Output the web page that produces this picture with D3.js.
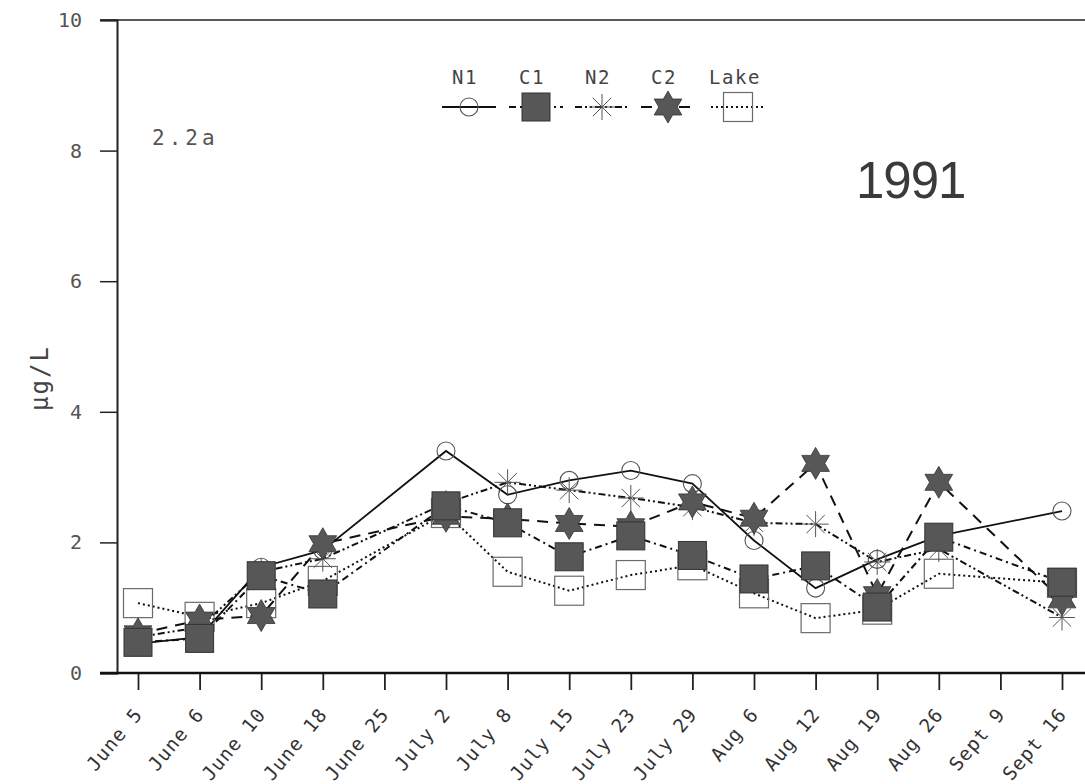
<!DOCTYPE html>
<html>
<head>
<meta charset="utf-8">
<script src="https://cdn.jsdelivr.net/npm/d3@7"></script>
<style>
  html, body { margin: 0; padding: 0; background: #fff; }
  svg { display: block; }
</style>
</head>
<body>
<svg id="chart" width="1085" height="784"></svg>
<script>
// Sampling dates (two dates without samples still get an axis slot)
const dates = ["June 5", "June 6", "June 10", "June 18", "June 25", "July 2", "July 8",
  "July 15", "July 23", "July 29", "Aug 6", "Aug 12", "Aug 19", "Aug 26", "Sept 9", "Sept 16"];

// Concentrations, µg/L (null = not sampled)
const n1   = [0.45, 0.55, 1.62, 1.88, null, 3.40, 2.73, 2.95, 3.10, 2.90, 2.03, 1.30, 1.74, 2.10, null, 2.48];
const c1   = [0.47, 0.53, 1.49, 1.21, null, 2.56, 2.30, 1.78, 2.10, 1.80, 1.44, 1.64, 1.01, 2.08, null, 1.39];
const n2   = [0.55, 0.70, 1.55, 1.75, null, 2.60, 2.92, 2.80, 2.68, 2.54, 2.30, 2.28, 1.70, 1.90, null, 0.85];
const c2   = [0.60, 0.81, 0.88, 1.98, null, 2.40, 2.36, 2.29, 2.24, 2.62, 2.37, 3.21, 1.20, 2.92, null, 1.12];
const lake = [1.07, 0.86, 1.07, 1.41, null, 2.45, 1.55, 1.26, 1.50, 1.65, 1.22, 0.84, 0.97, 1.52, null, 1.38];

const yTicks = [0, 2, 4, 6, 8, 10];
const seriesNames = ["N1", "C1", "N2", "C2", "Lake"];

const svg = d3.select("#chart");
const mono = "'DejaVu Sans Mono', monospace";

const x = d3.scalePoint().domain(dates).range([138, 1062]);
const y = d3.scaleLinear().domain([0, 10]).range([673, 20]);

// Per-series drawing style
const styles = {
  N1:   { values: n1,   dash: null,          marker: "circle" },
  C1:   { values: c1,   dash: "7,4,2,4",     marker: "fsquare" },
  N2:   { values: n2,   dash: "7,3,2,3,2,3", marker: "asterisk" },
  C2:   { values: c2,   dash: "11,8",        marker: "star" },
  Lake: { values: lake, dash: "2,3",         marker: "osquare" }
};

// ---- Axes ----
const axisG = svg.append("g");
// top frame line
axisG.append("line").attr("x1", 100).attr("x2", 1085).attr("y1", y(10)).attr("y2", y(10))
  .attr("stroke", "#222").attr("stroke-width", 1.5);

const yAxis = d3.axisLeft(y).tickValues(yTicks).tickSize(17).tickPadding(18)
  .tickFormat(d3.format("d"));
const gy = axisG.append("g").attr("transform", "translate(117,0)").call(yAxis);
gy.select(".domain").attr("stroke", "#222").attr("stroke-width", 2);
gy.selectAll(".tick line").attr("stroke", "#222").attr("stroke-width", 1.5);
gy.selectAll(".tick text").attr("font-family", mono).attr("font-size", 20).attr("fill", "#555");

const xAxis = d3.axisBottom(x).tickSize(17).tickSizeOuter(0);
const gx = axisG.append("g").attr("transform", `translate(0,${y(0)})`).call(xAxis);
gx.select(".domain").remove();
gx.append("line").attr("x1", 100).attr("x2", 1085).attr("y1", 0).attr("y2", 0)
  .attr("stroke", "#111").attr("stroke-width", 2.5);
gx.selectAll(".tick line").attr("stroke", "#222").attr("stroke-width", 1.8);
gx.selectAll(".tick text")
  .attr("font-family", mono).attr("font-size", 19).attr("fill", "#333")
  .attr("letter-spacing", 1)
  .attr("text-anchor", "end")
  .attr("dy", null).attr("y", null)
  .attr("transform", "translate(5,42) rotate(-50)");

// y-axis title
svg.append("text")
  .attr("transform", "translate(48,378) rotate(-90)")
  .attr("text-anchor", "middle")
  .attr("font-family", mono).attr("font-size", 24).attr("fill", "#444")
  .attr("letter-spacing", 2)
  .text("µg/L");

// panel tag and year
svg.append("text").attr("x", 152).attr("y", 145)
  .attr("font-family", mono).attr("font-size", 21).attr("fill", "#555")
  .attr("letter-spacing", 4).text("2.2a");
svg.append("text").attr("x", 856).attr("y", 198)
  .attr("font-family", "'Liberation Sans', Arial, sans-serif").attr("font-size", 51)
  .attr("fill", "#3a3a3a").attr("letter-spacing", -1).text("1991");

// ---- Marker shapes ----
const FILL = "#575757";
function hexagram(R) {
  const r = R / Math.sqrt(3);
  const pts = d3.range(12).map(i => {
    const a = -Math.PI / 2 + i * Math.PI / 6;
    const rad = i % 2 === 0 ? R : r;
    return [rad * Math.cos(a), rad * Math.sin(a)];
  });
  return "M" + pts.map(p => p.join(",")).join("L") + "Z";
}
function drawMarker(g, type) {
  if (type === "circle") {
    g.append("circle").attr("r", 9).attr("fill", "none").attr("stroke", "#555").attr("stroke-width", 1.1);
  } else if (type === "fsquare") {
    g.append("rect").attr("x", -14).attr("y", -14).attr("width", 28).attr("height", 28)
      .attr("fill", FILL).attr("stroke", "#333").attr("stroke-width", 1);
  } else if (type === "osquare") {
    g.append("rect").attr("x", -14.5).attr("y", -14.5).attr("width", 29).attr("height", 29)
      .attr("fill", "none").attr("stroke", "#6a6a6a").attr("stroke-width", 1.2);
  } else if (type === "asterisk") {
    [0, 45, 90, 135].forEach(a => {
      const rad = a * Math.PI / 180, R = 13;
      g.append("line")
        .attr("x1", -R * Math.cos(rad)).attr("y1", -R * Math.sin(rad))
        .attr("x2", R * Math.cos(rad)).attr("y2", R * Math.sin(rad))
        .attr("stroke", "#555").attr("stroke-width", 1);
    });
  } else if (type === "star") {
    g.append("path").attr("d", hexagram(16)).attr("fill", FILL).attr("stroke", "#333").attr("stroke-width", 0.8);
  }
}

// ---- Lines ----
const line = d3.line().x(d => x(d.date)).y(d => y(d.v));
const drawOrder = ["Lake", "N1", "N2", "C2", "C1"];
const plotG = svg.append("g");
drawOrder.forEach(name => {
  const s = styles[name];
  const pts = dates.map((d, i) => ({ date: d, v: s.values[i] })).filter(p => p.v !== null);
  plotG.append("path").datum(pts).attr("d", line)
    .attr("fill", "none").attr("stroke", "#111")
    .attr("stroke-width", name === "N1" ? 1.8 : 2)
    .attr("stroke-dasharray", s.dash);
});
// ---- Markers on top of lines ----
drawOrder.forEach(name => {
  const s = styles[name];
  dates.forEach((d, i) => {
    const v = s.values[i];
    if (v === null) return;
    const g = plotG.append("g").attr("transform", `translate(${x(d)},${y(v)})`);
    drawMarker(g, s.marker);
  });
});

// ---- Legend ----
const legendX = { N1: 469, C1: 536, N2: 602, C2: 668, Lake: 738 };
const legendHalf = 27;
const legG = svg.append("g");
seriesNames.forEach(name => {
  const s = styles[name];
  const cx = legendX[name];
  legG.append("text").attr("x", name === "Lake" ? cx - 3 : cx - 4).attr("y", 84)
    .attr("text-anchor", "middle").attr("font-family", mono).attr("font-size", 19)
    .attr("letter-spacing", 1.5)
    .attr("fill", "#444").text(name);
  legG.append("line").attr("x1", cx - legendHalf).attr("x2", cx + legendHalf)
    .attr("y1", 107).attr("y2", 107)
    .attr("stroke", "#111").attr("stroke-width", 1.8).attr("stroke-dasharray", s.dash);
  drawMarker(legG.append("g").attr("transform", `translate(${cx},107)`), s.marker);
});
</script>
</body>
</html>
